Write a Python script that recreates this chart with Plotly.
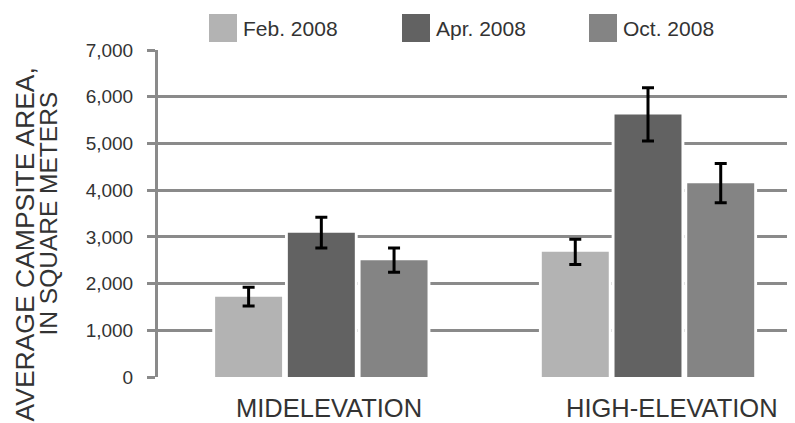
import plotly.graph_objects as go

categories = ["MIDELEVATION", "HIGH-ELEVATION"]
series_names = ["Feb. 2008", "Apr. 2008", "Oct. 2008"]
feb_values = [1720, 2680]
apr_values = [3090, 5620]
oct_values = [2500, 4150]
feb_errors = [200, 270]
apr_errors = [330, 570]
oct_errors = [260, 420]
y_tick_values = [0, 1000, 2000, 3000, 4000, 5000, 6000, 7000]

colors = ["#b3b3b3", "#626262", "#848484"]
values = [feb_values, apr_values, oct_values]
errors = [feb_errors, apr_errors, oct_errors]

SLOT = 0.2226   # space per bar inside a group (category units)
BAR_W = 0.205   # visible bar width

fig = go.Figure()
# white underlays hide the grid lines right beside each bar
for i, vals in enumerate(values):
    fig.add_trace(go.Bar(
        x=categories, y=vals, width=SLOT, offset=(i - 1) * SLOT - SLOT / 2,
        marker=dict(color="white", line=dict(width=0)),
        showlegend=False, hoverinfo="skip",
    ))
for i, (name, vals, errs, col) in enumerate(zip(series_names, values, errors, colors)):
    fig.add_trace(go.Bar(
        x=categories, y=vals, name=name,
        width=BAR_W, offset=(i - 1) * SLOT - BAR_W / 2,
        marker=dict(color=col, line=dict(width=0)),
        error_y=dict(type="data", array=errs, visible=True, color="black",
                     thickness=3, width=6),
        showlegend=False,
    ))

FONT = "Liberation Sans, Arial, sans-serif"
TXT = "#333333"

# manual legend (large squares as in the reference)
legend_x = [209, 402, 589]
shapes = []
annotations = []
for name, col, lx in zip(series_names, colors, legend_x):
    shapes.append(dict(type="rect", xref="paper", yref="paper",
                       x0=(lx - 158) / 637, x1=(lx + 28 - 158) / 637,
                       y0=(377 - 42) / 327, y1=(377 - 14) / 327,
                       fillcolor=col, line=dict(width=0), layer="above"))
    annotations.append(dict(text=name, xref="paper", yref="paper",
                            x=(lx + 32 - 158) / 637, y=(377 - 28) / 327,
                            xanchor="left", yanchor="middle", showarrow=False,
                            font=dict(size=21, color=TXT, family=FONT)))

# category labels
for cat, shift in zip(categories, [8, 24]):
    annotations.append(dict(text=cat, x=cat, xref="x", y=0, yref="paper",
                            xanchor="center", yanchor="middle", yshift=-31,
                            xshift=shift, showarrow=False, borderpad=0,
                            font=dict(size=25.5, color=TXT, family=FONT)))

# y axis title (two lines with different sizes)
annotations.append(dict(text="AVERAGE CAMPSITE AREA,", xref="paper", yref="paper",
                        x=0, y=0.5, xshift=-134, yshift=-31, textangle=-90,
                        xanchor="center", yanchor="middle", showarrow=False,
                        font=dict(size=26.5, color=TXT, family=FONT)))
annotations.append(dict(text="IN SQUARE METERS", xref="paper", yref="paper",
                        x=0, y=0.5, xshift=-110, yshift=0, textangle=-90,
                        xanchor="center", yanchor="middle", showarrow=False,
                        font=dict(size=24.5, color=TXT, family=FONT)))

# the page body has an 8px margin, so the figure is 8px smaller each way
fig.update_layout(
    width=787, height=415,
    margin=dict(l=150, r=0, t=42, b=46),
    paper_bgcolor="white", plot_bgcolor="white",
    barmode="overlay",
    shapes=shapes, annotations=annotations,
    showlegend=False,
    xaxis=dict(type="category", range=[-0.5, 1.45], showticklabels=False,
               showgrid=False, zeroline=False, showline=False, ticks=""),
    yaxis=dict(range=[0, 7000], tickvals=y_tick_values, tickformat=",d",
               showgrid=True, gridcolor="#8a8a8a", gridwidth=3,
               zeroline=False, showline=True, linecolor="#8a8a8a", linewidth=3,
               ticks="outside", ticklen=8, tickwidth=3, tickcolor="#8a8a8a",
               ticklabelstandoff=10,
               tickfont=dict(size=19, color=TXT, family=FONT)),
)

fig.write_html("out.html")
